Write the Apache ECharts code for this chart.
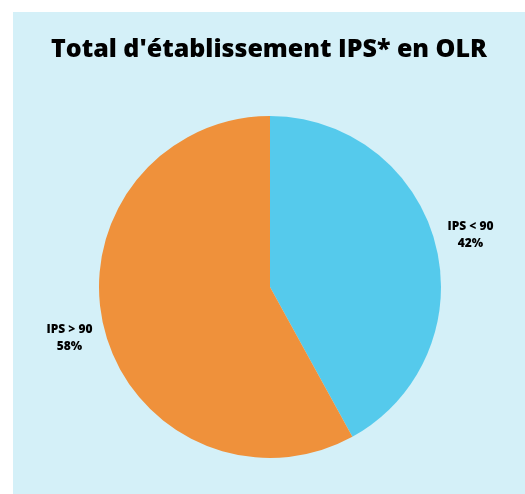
<!DOCTYPE html>
<html>
<head>
<meta charset="utf-8">
<script src="https://cdn.jsdelivr.net/npm/echarts@6/dist/echarts.min.js"></script>
<style>
  html, body { margin: 0; padding: 0; background: #ffffff; }
  #wrap { position: absolute; left: 13px; top: 12px; width: 512px; height: 482px; background: #d4f0f8; }
  #chart { width: 512px; height: 482px; }
</style>
</head>
<body>
<div id="wrap"><div id="chart"></div></div>
<script>
const titleText = "Total d'établissement IPS* en OLR";
const categories = ["IPS < 90", "IPS > 90"];
const values = [42, 58];
const colors = ["#55caec", "#ef913b"];

const data = categories.map((c, i) => ({ name: c, value: values[i], itemStyle: { color: colors[i] } }));

const chart = echarts.init(document.getElementById('chart'), null, { renderer: 'canvas' });
chart.setOption({
  backgroundColor: 'transparent',
  animation: false,
  title: {
    text: titleText,
    left: 'center',
    top: 20,
    textStyle: { fontFamily: 'Open Sans', fontWeight: 800, fontSize: 25, color: '#000000' }
  },
  series: [
    {
      type: 'pie',
      center: [257, 275],
      radius: [0, 171],
      startAngle: 90,
      clockwise: true,
      silent: true,
      label: { show: false },
      labelLine: { show: false },
      data: data
    },
    {
      type: 'pie',
      center: [257, 275],
      radius: [171, 237],
      startAngle: 90,
      clockwise: true,
      silent: true,
      itemStyle: { color: 'rgba(0,0,0,0)' },
      label: {
        show: true,
        position: 'inside',
        formatter: '{b}\n{d}%',
        fontFamily: 'Open Sans',
        fontWeight: 800,
        fontSize: 12,
        lineHeight: 17,
        color: '#000000'
      },
      labelLine: { show: false },
      data: categories.map((c, i) => ({ name: c, value: values[i] }))
    }
  ]
});
</script>
</body>
</html>
